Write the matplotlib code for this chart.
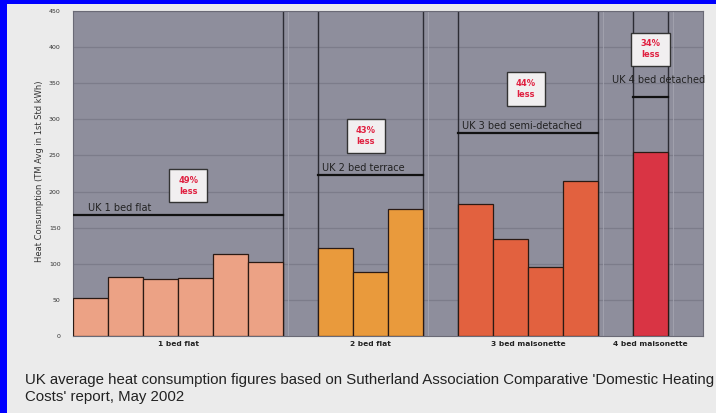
import matplotlib
matplotlib.use("Agg")
import matplotlib.pyplot as plt
from matplotlib.patches import Rectangle

# Measured heat consumption per dwelling (kWh/m2) for each property type
flat1_values = [52, 82, 79, 80, 113, 103]
flat2_values = [122, 89, 176]
mais3_values = [183, 134, 96, 215]
mais4_values = [255]

group_labels = ["1 bed flat", "2 bed flat", "3 bed maisonette", "4 bed maisonette"]
group_colors = ["#eca285", "#e99a3c", "#e2613f", "#d93444"]

# UK averages for the comparable house types
uk_labels = ["UK 1 bed flat", "UK 2 bed terrace", "UK 3 bed semi-detached", "UK 4 bed detached"]
uk_values = [167, 223, 281, 331]
saving_labels = ["49%\nless", "43%\nless", "44%\nless", "34%\nless"]

y_ticks = list(range(0, 451, 50))

groups = [flat1_values, flat2_values, mais3_values, mais4_values]

fig = plt.figure(figsize=(7.16, 4.13), dpi=100, facecolor="#ebebeb")
ax = fig.add_axes([73 / 716, 1 - 336 / 413, 630 / 716, 325 / 413])
ax.set_facecolor("#8e8e9c")

ax.set_xlim(0, 18)
ax.set_ylim(0, 450)
ax.set_yticks(y_ticks)
ax.set_yticklabels([str(t) for t in y_ticks], fontsize=4.5, color="#333333")
ax.tick_params(axis="y", length=0, pad=9)
ax.set_xticks([])
for s in ax.spines.values():
    s.set_color("#6a6a76")
    s.set_linewidth(0.8)

for t in y_ticks[1:]:
    ax.axhline(t, color="#7c7c8a", lw=0.9, zorder=1)

# Each group occupies consecutive slots with one empty slot after it
slot = 0
group_spans = []
for vals in groups:
    start = slot
    group_spans.append((start, start + len(vals)))
    slot = start + len(vals) + 1

for (start, end), vals, color in zip(group_spans, groups, group_colors):
    xs = [start + i + 0.5 for i in range(len(vals))]
    ax.bar(xs, vals, width=1.0, color=color, edgecolor="#2a1a14", linewidth=0.9, zorder=3)

# Dark column separators around each group
for start, end in group_spans:
    for x in (start, end):
        if 0 < x < 18:
            ax.axvline(x, color="#2c2c34", lw=1.0, zorder=2)
    ax.axvline(end + 0.15, color="#a4a4b0", lw=0.6, zorder=1)

# UK average reference lines and labels
for (start, end), val in zip(group_spans, uk_values):
    ax.plot([start, end], [val, val], color="#111111", lw=1.6, zorder=4)
for (start, end), val, lab, i in zip(group_spans, uk_values, uk_labels, range(4)):
    if i < 3:
        ax.text(start + 0.1 if i else 0.43, val + 3, lab, fontsize=7,
                color="#222222", ha="left", va="bottom", zorder=5)
    else:
        ax.text(start - 0.6, val + 23, lab, fontsize=7,
                color="#222222", ha="left", va="center", zorder=5)

# Savings boxes
box_pos = [(3.29, 208), (8.37, 277), (12.94, 342), (16.5, 397)]
box_w, box_h = 1.1, 46
for (bx, by), lab in zip(box_pos, saving_labels):
    ax.add_patch(Rectangle((bx - box_w / 2, by - box_h / 2), box_w, box_h,
                           facecolor="#f1eff0", edgecolor="#333333", lw=1.0, zorder=5))
    ax.text(bx, by, lab, fontsize=6, color="#e02040", fontweight="bold",
            ha="center", va="center", linespacing=1.3, zorder=6)

# Category labels under the groups
for (start, end), lab in zip(group_spans, group_labels):
    ax.text((start + end) / 2, -11, lab, fontsize=5.4, color="#222222",
            ha="center", va="center", fontweight="bold")

fig.text(40 / 716, 1 - 171 / 413, "Heat Consumption (TM Avg in 1st Std kWh)",
         rotation=90, fontsize=6, color="#333333", ha="center", va="center")

fig.text(25 / 716, 1 - 380 / 413,
         "UK average heat consumption figures based on Sutherland Association Comparative 'Domestic Heating",
         fontsize=10.8, color="#222222", family="Liberation Sans", ha="left", va="center")
fig.text(25 / 716, 1 - 397 / 413, "Costs' report, May 2002",
         fontsize=10.8, color="#222222", family="Liberation Sans", ha="left", va="center")

# Blue frame along the left and top edges
fig.add_artist(Rectangle((0, 0), 7 / 716, 1, transform=fig.transFigure,
                         facecolor="#0000ff", edgecolor="none"))
fig.add_artist(Rectangle((0, 1 - 4 / 413), 1, 4 / 413, transform=fig.transFigure,
                         facecolor="#0000ff", edgecolor="none"))

fig.savefig("out.png", dpi=100, facecolor=fig.get_facecolor())
